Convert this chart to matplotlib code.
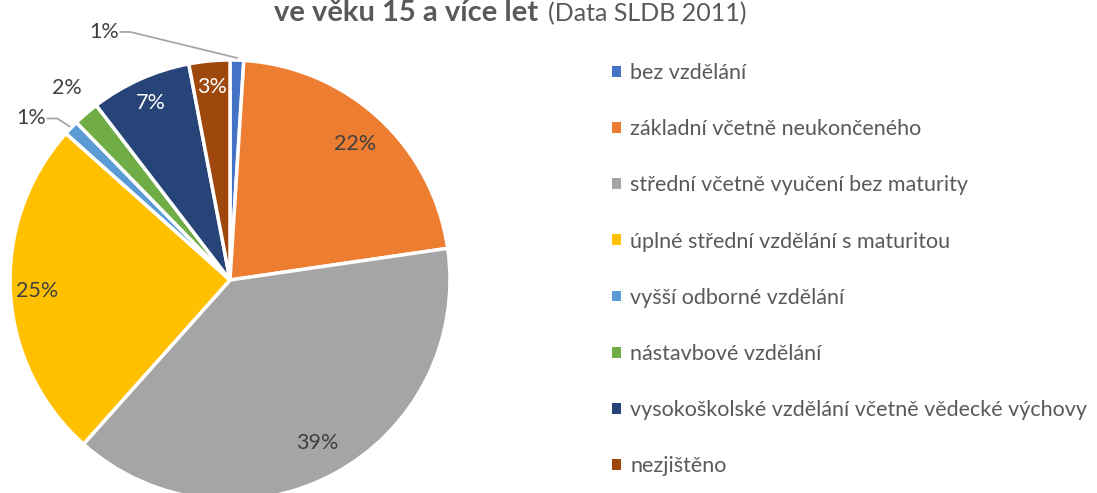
import matplotlib
matplotlib.use("Agg")
import matplotlib.pyplot as plt
import numpy as np

categories = ["bez vzdělání", "základní včetně neukončeného",
              "střední včetně vyučení bez maturity", "úplné střední vzdělání s maturitou",
              "vyšší odborné vzdělání", "nástavbové vzdělání",
              "vysokoškolské vzdělání včetně vědecké výchovy", "nezjištěno"]
values = [1.0, 21.7, 38.9, 25.0, 1.1, 1.9, 7.4, 3.0]
colors = ["#4472C4", "#ED7D31", "#A5A5A5", "#FFC000", "#5B9BD5", "#70AD47", "#264478", "#9E480E"]

plt.rcParams['font.family'] = ['Lato', 'DejaVu Sans']
W, H = 1097, 493
fig = plt.figure(figsize=(W/100, H/100), dpi=100)

# pie axes: centre (230,280) px, radius 220 px
cx, cy, r = 230, 280, 220
ax = fig.add_axes([(cx-r)/W, (H-cy-r)/H, 2*r/W, 2*r/H])

wedges, _ = ax.pie(values, colors=colors, startangle=90, counterclock=False, radius=1,
                   wedgeprops=dict(edgecolor='white', linewidth=2.5))
ax.set_xlim(-1, 1); ax.set_ylim(-1, 1); ax.set_aspect('equal'); ax.axis('off')
for w in wedges:
    w.set_clip_on(False)

total = sum(values)
txt = '#404040'
inside = {1: (0.84, txt), 2: (0.84, txt), 3: (0.88, txt), 6: (0.88, 'white'), 7: (0.88, 'white')}
for i, w in enumerate(wedges):
    ang = np.deg2rad((w.theta1 + w.theta2) / 2)
    pct = f"{values[i]/total*100:.0f}%"
    if i in inside:
        rr, c = inside[i]
        ax.text(rr*np.cos(ang), rr*np.sin(ang), pct, ha='center', va='center',
                fontsize=15.5, color=c)
    elif i == 5:
        ax.text(1.13*np.cos(ang), 1.13*np.sin(ang) + 0.02, pct, ha='center', va='center',
                fontsize=15.5, color=txt)
    elif i == 4:
        px, py = 1.01*np.cos(ang), 1.01*np.sin(ang)
        ax.plot([px, px-0.055, px-0.1], [py, py+0.036, py+0.036], color='#A6A6A6', lw=1.3, clip_on=False)
        ax.text(px-0.105, py+0.036, pct, ha='right', va='center', fontsize=15.5, color=txt)
    elif i == 0:
        px, py = 1.01*np.cos(ang), 1.01*np.sin(ang)
        ax.plot([px, px-0.485, px-0.53], [py, py+0.118, py+0.118], color='#A6A6A6', lw=1.3, clip_on=False)
        ax.text(px-0.535, py+0.118, pct, ha='right', va='center', fontsize=15.5, color=txt)

# title (second line of the original title)
fig.text(538/W, 1 - 21/H, "ve věku 15 a více let", ha='right', va='baseline',
         fontsize=21, fontweight='bold', color='#595959')
fig.text(548/W, 1 - 21/H, "(Data SLDB 2011)", ha='left', va='baseline',
         fontsize=18, color='#595959')

leg = fig.legend(wedges, categories, loc='upper left', bbox_to_anchor=(612/W, 1 - 63/H),
                 frameon=False, fontsize=15.5, labelcolor='#595959',
                 handlelength=0.4, handleheight=0.4, handletextpad=0.45,
                 labelspacing=1.68, borderpad=0, borderaxespad=0)
for h in leg.legend_handles:
    h.set_linewidth(0)

fig.savefig("out.png", dpi=100)
